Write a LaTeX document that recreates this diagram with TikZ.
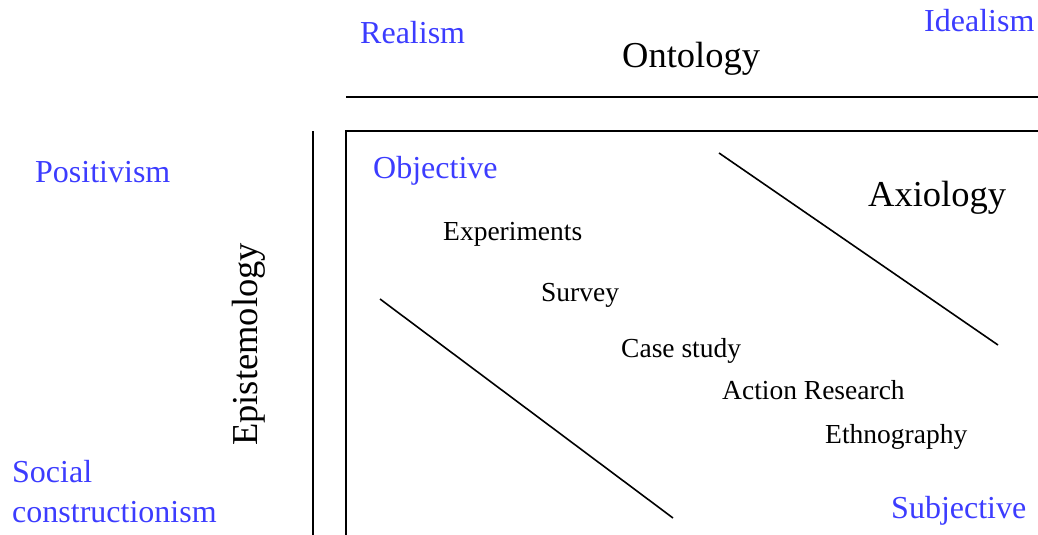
\documentclass[tikz,border=0pt]{standalone}
\usepackage{fontspec}
\setmainfont{Liberation Serif}
\definecolor{lblblue}{RGB}{60,60,255}
\tikzset{
  lbl/.style={anchor=base west,inner sep=0pt,text=lblblue,font=\fontsize{32}{38}\selectfont},
  head/.style={anchor=base west,inner sep=0pt,font=\fontsize{36.5}{42}\selectfont},
  meth/.style={anchor=base west,inner sep=0pt,font=\fontsize{27.5}{33}\selectfont},
  rule/.style={line width=1.6pt}
}
\begin{document}
\begin{tikzpicture}[x=1pt,y=-1pt]
\useasboundingbox (0,0) rectangle (1038,535);
\clip (0,0) rectangle (1038,535);
% frame lines
\coordinate (hl) at (346,97);
\coordinate (hr) at (1045,97);
\draw[rule] (hl) -- (hr);
\coordinate (vt) at (313,131);
\coordinate (vb) at (313,545);
\draw[rule] (vt) -- (vb);
\coordinate (boxtl) at (346,131);
\coordinate (boxbr) at (1045,545);
\draw[rule] (boxtl) rectangle (boxbr);
% diagonals
\coordinate (d1a) at (719,153);
\coordinate (d1b) at (998,345);
\draw[rule] (d1a) -- (d1b);
\coordinate (d2a) at (380,299);
\coordinate (d2b) at (673,518);
\draw[rule] (d2a) -- (d2b);
% headings
\node[lbl] (realism) at (360,44) {Realism};
\node[head] (ontology) at (622,67) {Ontology};
\node[lbl] (idealism) at (924,32) {Idealism};
\node[lbl] (positivism) at (35,182) {Positivism};
\node[lbl] (social) at (12,482) {Social};
\node[lbl] (constr) at (12,522) {constructionism};
\node[head,rotate=90] (epist) at (257,446) {Epistemology};
\node[lbl] (objective) at (373,178) {Objective};
\node[head] (axiology) at (868,206) {Axiology};
\node[lbl] (subjective) at (891,518) {Subjective};
% methods
\node[meth] (exp) at (443,240) {Experiments};
\node[meth] (survey) at (541,301) {Survey};
\node[meth] (case) at (621,357) {Case study};
\node[meth] (action) at (722,399) {Action Research};
\node[meth] (ethno) at (825,443) {Ethnography};
\end{tikzpicture}
\end{document}
